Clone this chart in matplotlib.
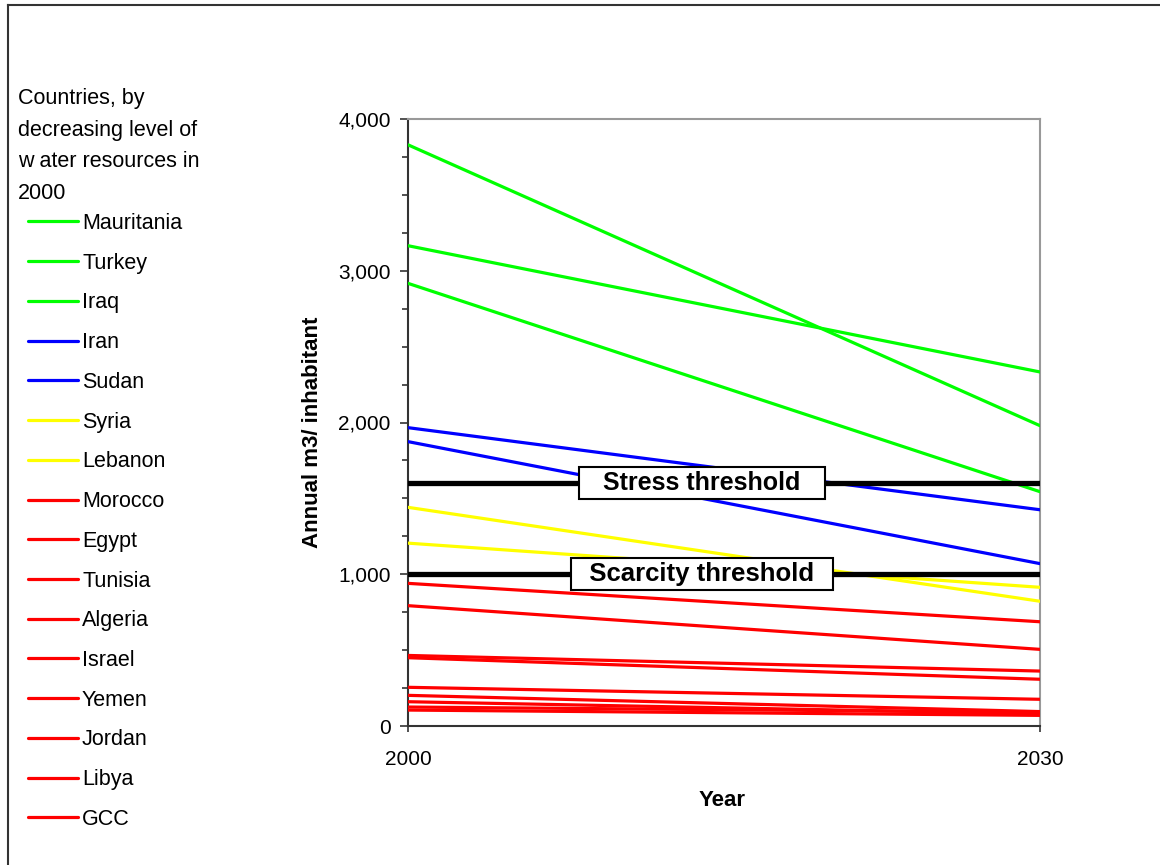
import matplotlib
matplotlib.use("Agg")
import matplotlib.pyplot as plt
from matplotlib.lines import Line2D
from matplotlib.ticker import MultipleLocator, FuncFormatter

plt.rcParams['font.family'] = ['Liberation Sans', 'DejaVu Sans']

years = [2000, 2030]
countries = ["Mauritania", "Turkey", "Iraq", "Iran", "Sudan", "Syria", "Lebanon",
             "Morocco", "Egypt", "Tunisia", "Algeria", "Israel", "Yemen", "Jordan",
             "Libya", "GCC"]
values_2000 = [3830, 3165, 2917, 1966, 1874, 1441, 1205, 940, 793, 465, 450,
               255, 202, 160, 125, 105]
values_2030 = [1979, 2333, 1544, 1425, 1070, 822, 914, 687, 505, 362, 308,
               176, 95, 80, 90, 70]
groups = ["high", "high", "high", "mid", "mid", "low", "low",
          "vlow", "vlow", "vlow", "vlow", "vlow", "vlow", "vlow", "vlow", "vlow"]
group_colors = {"high": "#00FF00", "mid": "#0000FF", "low": "#FFFF00", "vlow": "#FF0000"}

stress_threshold = 1600
scarcity_threshold = 1000
legend_title = "Countries, by\ndecreasing level of\nw ater resources in\n2000"

W, H = 1160, 865
fig = plt.figure(figsize=(W / 100, H / 100), dpi=100)
ax = fig.add_axes([408 / W, 1 - 726 / H, (1040 - 408) / W, (726 - 119) / H])

handles = []
for name, v0, v1, g in zip(countries, values_2000, values_2030, groups):
    ln, = ax.plot(years, [v0, v1], color=group_colors[g], lw=2.3,
                  solid_capstyle='round', label=name, zorder=3)
    handles.append(ln)

ax.axhline(stress_threshold, color='black', lw=3.8, solid_capstyle='round', zorder=4)
ax.axhline(scarcity_threshold, color='black', lw=3.8, solid_capstyle='round', zorder=4)

xmid = 2000 + (702 - 408) / 632 * 30
box = dict(boxstyle='square,pad=0.15', facecolor='white', edgecolor='black', lw=1.5)
ax.text(xmid, stress_threshold, "   Stress threshold   ", ha='center', va='center',
        fontsize=18, fontweight='bold', bbox=box, zorder=5)
ax.text(xmid, scarcity_threshold, "  Scarcity threshold  ", ha='center', va='center',
        fontsize=18.5, fontweight='bold', bbox=box, zorder=5)

ax.set_xlim(2000, 2030)
ax.set_ylim(0, 4000)
ax.set_xticks(years)
ax.set_xticklabels([str(y) for y in years])
ax.yaxis.set_major_locator(MultipleLocator(1000))
ax.yaxis.set_minor_locator(MultipleLocator(250))
ax.yaxis.set_major_formatter(FuncFormatter(lambda v, p: f"{int(v):,}"))
ax.tick_params(axis='y', which='major', direction='out', length=5.5, width=1.2,
               pad=7, labelsize=15, color='#333333')
ax.tick_params(axis='y', which='minor', direction='out', length=4, width=1.2,
               color='#333333')
ax.tick_params(axis='x', which='major', direction='inout', length=9, width=1.2,
               pad=13, labelsize=15, color='#333333')

for s in ['left', 'bottom']:
    ax.spines[s].set_color('#333333')
    ax.spines[s].set_linewidth(1.5)
for s in ['top', 'right']:
    ax.spines[s].set_color('#999999')
    ax.spines[s].set_linewidth(1.5)

ax.set_ylabel("Annual m3/ inhabitant", fontsize=16, fontweight='bold')
ax.yaxis.set_label_coords((312 - 408) / 632, (726 - 432) / 607)
ax.yaxis.label.set_va('center')
ax.set_xlabel("Year", fontsize=16, fontweight='bold')
ax.xaxis.set_label_coords((722 - 408) / 632, (726 - 801) / 607)
ax.xaxis.label.set_va('center')

fig.text(18 / W, 1 - 146 / H, legend_title, ha='left', va='center',
         fontsize=15.5, linespacing=1.67)

fig.legend(handles=handles, labels=countries, loc='upper left',
           bbox_to_anchor=(28 / W, 1 - 213 / H), frameon=False, fontsize=15.5,
           handlelength=2.33, handletextpad=0.18, labelspacing=0.87,
           borderpad=0, borderaxespad=0)

fig.add_artist(Line2D([8 / W, 8 / W], [0, 1 - 5 / H], transform=fig.transFigure,
                      color='#333333', lw=1.5))
fig.add_artist(Line2D([8 / W, 1], [1 - 5 / H, 1 - 5 / H], transform=fig.transFigure,
                      color='#333333', lw=1.5))

fig.savefig("out.png", dpi=100, facecolor='white')
